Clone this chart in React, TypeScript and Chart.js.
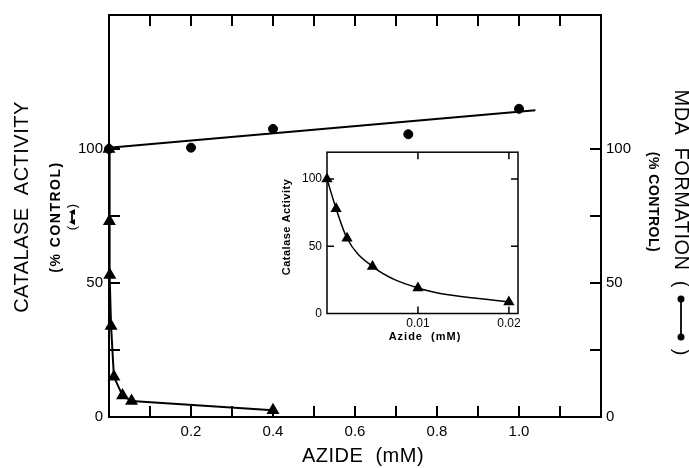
import React, { useEffect, useRef } from 'react';
import { Chart, registerables } from 'chart.js';

Chart.register(...registerables);

// ---- data ----
const MDA_AZIDE = [0, 0.2, 0.4, 0.73, 1.0];
const MDA_FORMATION = [100, 100.5, 107.5, 105.5, 115];
const MDA_FIT_AZIDE = [0, 1.04];
const MDA_FIT_VALUE = [100.5, 114.5];
const CAT_AZIDE = [0, 0.001, 0.002, 0.005, 0.012, 0.033, 0.055, 0.4];
const CAT_ACTIVITY = [100, 73, 53, 34, 15, 8, 6, 2.5];
const INSET_AZIDE = [0, 0.001, 0.0022, 0.005, 0.01, 0.02];
const INSET_ACTIVITY = [100, 78, 56, 35, 19, 8.5];

// ---- tick labels ----
const MAIN_X_LABELS = [0.2, 0.4, 0.6, 0.8, 1.0];
const MAIN_X_MARKS = [0.1, 0.2, 0.3, 0.4, 0.5, 0.6, 0.7, 0.8, 0.9, 1.0, 1.1];
const MAIN_Y_LABELS = [0, 50, 100];
const MAIN_Y_MARKS = [25, 50, 75, 100];
const INSET_X_LABELS = [0.01, 0.02];
const INSET_X_MARKS = [0.01, 0.02];
const INSET_Y_LABELS = [0, 50, 100];
const INSET_Y_MARKS = [50, 100];

const FONT = '"Liberation Sans", Arial, Helvetica, sans-serif';

const pts = (xs: number[], ys: number[]) => xs.map((x, i) => ({ x, y: ys[i] }));

const framePlugin = {
  id: 'frame',
  afterDraw(chart: any, _args: any, opts: any) {
    const { ctx, chartArea: a } = chart;
    const xs = chart.scales.x;
    const ys = chart.scales.y;
    ctx.save();
    ctx.strokeStyle = '#000';
    ctx.lineWidth = opts.lineWidth;
    ctx.strokeRect(a.left, a.top, a.right - a.left, a.bottom - a.top);
    ctx.beginPath();
    for (const v of opts.xMarks) {
      const p = xs.getPixelForValue(v);
      ctx.moveTo(p, a.bottom);
      ctx.lineTo(p, a.bottom - opts.len);
      ctx.moveTo(p, a.top);
      ctx.lineTo(p, a.top + opts.len);
    }
    for (const v of opts.yMarks) {
      const p = ys.getPixelForValue(v);
      ctx.moveTo(a.left, p);
      ctx.lineTo(a.left + opts.len, p);
      ctx.moveTo(a.right, p);
      ctx.lineTo(a.right - opts.len, p);
    }
    ctx.stroke();
    ctx.fillStyle = '#000';
    for (const t of opts.titles || []) {
      ctx.save();
      ctx.translate(t.x, t.y);
      ctx.rotate(t.rot || 0);
      ctx.font = t.font;
      (ctx as any).letterSpacing = t.spacing || '0px';
      ctx.textAlign = 'center';
      ctx.textBaseline = 'middle';
      ctx.fillText(t.text, 0, 0);
      ctx.restore();
    }
    for (const s of opts.symbols || []) {
      ctx.save();
      ctx.translate(s.x, s.y);
      ctx.rotate(s.rot);
      ctx.font = s.font;
      ctx.textAlign = 'center';
      ctx.textBaseline = 'middle';
      ctx.fillText('(', -s.paren, 0);
      ctx.fillText(')', s.paren, 0);
      ctx.lineWidth = 1.8;
      ctx.beginPath();
      ctx.moveTo(-s.half, 0);
      ctx.lineTo(s.half, 0);
      ctx.stroke();
      for (const e of [-s.half, s.half]) {
        ctx.beginPath();
        if (s.marker === 'circle') {
          ctx.arc(e, 0, s.size, 0, Math.PI * 2);
        } else {
          ctx.moveTo(e - s.size, s.size);
          ctx.lineTo(e, -s.size);
          ctx.lineTo(e + s.size, s.size);
          ctx.closePath();
        }
        ctx.fill();
      }
      ctx.restore();
    }
    ctx.restore();
  },
};

export default function App() {
  const mainRef = useRef<HTMLCanvasElement>(null);
  const insetRef = useRef<HTMLCanvasElement>(null);

  useEffect(() => {
    const noGrid = { display: false, drawTicks: false };
    const noBorder = { display: false };

    const main = new Chart(mainRef.current!, {
      type: 'scatter',
      data: {
        datasets: [
          {
            label: 'MDA formation',
            data: pts(MDA_AZIDE, MDA_FORMATION),
            yAxisID: 'y2',
            showLine: false,
            pointStyle: 'circle',
            pointRadius: 4.5,
            backgroundColor: '#000',
            borderColor: '#000',
            clip: false,
          } as any,
          {
            label: 'MDA fit',
            data: pts(MDA_FIT_AZIDE, MDA_FIT_VALUE),
            yAxisID: 'y2',
            showLine: true,
            pointRadius: 0,
            borderColor: '#000',
            borderWidth: 2,
            clip: false,
          } as any,
          {
            label: 'Catalase activity',
            data: pts(CAT_AZIDE, CAT_ACTIVITY),
            yAxisID: 'y',
            showLine: true,
            pointStyle: 'triangle',
            pointRadius: 5.5,
            backgroundColor: '#000',
            borderColor: '#000',
            borderWidth: 2,
            tension: 0,
            clip: false,
          } as any,
        ],
      },
      options: {
        animation: false,
        responsive: false,
        devicePixelRatio: 1,
        layout: { padding: { top: 13, left: 0, right: 0, bottom: 0 } },
        plugins: {
          legend: { display: false },
          tooltip: { enabled: false },
          frame: {
            lineWidth: 2,
            len: 11,
            xMarks: MAIN_X_MARKS,
            yMarks: MAIN_Y_MARKS,
            titles: [
              { text: 'CATALASE  ACTIVITY', x: 22, y: 207, rot: -Math.PI / 2, font: `20px ${FONT}`, spacing: '0.5px' },
              { text: '(% CONTROL)', x: 56, y: 217, rot: -Math.PI / 2, font: `bold 14px ${FONT}`, spacing: '1.5px' },
              { text: 'MDA  FORMATION', x: 681, y: 180, rot: Math.PI / 2, font: `20px ${FONT}`, spacing: '0.5px' },
              { text: '(% CONTROL)', x: 653, y: 202, rot: Math.PI / 2, font: `bold 14px ${FONT}`, spacing: '0.5px' },
              { text: 'AZIDE  (mM)', x: 363, y: 456, rot: 0, font: `20px ${FONT}`, spacing: '0.5px' },
            ],
            symbols: [
              { x: 72, y: 217, rot: -Math.PI / 2, font: `13px ${FONT}`, paren: 11, half: 5, size: 3, marker: 'triangle' },
              { x: 681, y: 318, rot: Math.PI / 2, font: `20px ${FONT}`, paren: 34, half: 19, size: 3.5, marker: 'circle' },
            ],
          },
        } as any,
        scales: {
          x: {
            type: 'linear',
            position: 'bottom',
            min: 0,
            max: 1.2,
            grid: noGrid,
            border: noBorder,
            afterFit: (s: any) => { s.height = 51; },
            afterBuildTicks: (s: any) => { s.ticks = MAIN_X_LABELS.map((v) => ({ value: v })); },
            ticks: {
              autoSkip: false,
              maxRotation: 0,
              padding: 6,
              color: '#000',
              font: { family: FONT, size: 15 },
              callback: (v: any) => Number(v).toFixed(1),
            },
          },
          y: {
            type: 'linear',
            position: 'left',
            min: 0,
            max: 150,
            grid: noGrid,
            border: noBorder,
            afterFit: (s: any) => { s.width = 109; },
            afterBuildTicks: (s: any) => { s.ticks = MAIN_Y_LABELS.map((v) => ({ value: v })); },
            ticks: {
              autoSkip: false,
              padding: 6,
              color: '#000',
              font: { family: FONT, size: 15 },
              callback: (v: any) => String(v),
            },
          },
          y2: {
            type: 'linear',
            position: 'right',
            min: 0,
            max: 150,
            grid: noGrid,
            border: noBorder,
            afterFit: (s: any) => { s.width = 88; },
            afterBuildTicks: (s: any) => { s.ticks = MAIN_Y_LABELS.map((v) => ({ value: v })); },
            ticks: {
              autoSkip: false,
              padding: 5,
              color: '#000',
              font: { family: FONT, size: 15 },
              callback: (v: any) => String(v),
            },
          },
        },
      },
      plugins: [framePlugin],
    });

    const inset = new Chart(insetRef.current!, {
      type: 'scatter',
      data: {
        datasets: [
          {
            label: 'Catalase activity',
            data: pts(INSET_AZIDE, INSET_ACTIVITY),
            showLine: true,
            pointStyle: 'triangle',
            pointRadius: 5,
            backgroundColor: '#000',
            borderColor: '#000',
            borderWidth: 1.5,
            cubicInterpolationMode: 'monotone',
            clip: false,
          } as any,
        ],
      },
      options: {
        animation: false,
        responsive: false,
        devicePixelRatio: 1,
        layout: { padding: { top: 12, right: 12, left: 0, bottom: 0 } },
        plugins: {
          legend: { display: false },
          tooltip: { enabled: false },
          frame: {
            lineWidth: 1.5,
            len: 7,
            xMarks: INSET_X_MARKS,
            yMarks: INSET_Y_MARKS,
            titles: [
              { text: 'Catalase Activity', x: 12, y: 87, rot: -Math.PI / 2, font: `bold 11px ${FONT}`, spacing: '0.5px' },
              { text: 'Azide  (mM)', x: 150, y: 197, rot: 0, font: `bold 11px ${FONT}`, spacing: '1px' },
            ],
          },
        } as any,
        scales: {
          x: {
            type: 'linear',
            position: 'bottom',
            min: 0,
            max: 0.021,
            grid: noGrid,
            border: noBorder,
            afterFit: (s: any) => { s.height = 41.5; },
            afterBuildTicks: (s: any) => { s.ticks = INSET_X_LABELS.map((v) => ({ value: v })); },
            ticks: {
              autoSkip: false,
              maxRotation: 0,
              padding: 3,
              color: '#000',
              font: { family: FONT, size: 12 },
              callback: (v: any) => Number(v).toFixed(2),
            },
          },
          y: {
            type: 'linear',
            position: 'left',
            min: 0,
            max: 120,
            grid: noGrid,
            border: noBorder,
            afterFit: (s: any) => { s.width = 52; },
            afterBuildTicks: (s: any) => { s.ticks = INSET_Y_LABELS.map((v) => ({ value: v })); },
            ticks: {
              autoSkip: false,
              padding: 5,
              color: '#000',
              font: { family: FONT, size: 12 },
              callback: (v: any) => String(v),
            },
          },
        },
      },
      plugins: [framePlugin],
    });

    return () => {
      main.destroy();
      inset.destroy();
    };
  }, []);

  return (
    <div style={{ position: 'fixed', left: 0, top: 0, width: 689, height: 468, background: '#fff' }}>
      <canvas ref={mainRef} width={689} height={468} style={{ position: 'absolute', left: 0, top: 0, width: 689, height: 468 }} />
      <canvas ref={insetRef} width={255} height={215} style={{ position: 'absolute', left: 275, top: 140, width: 255, height: 215 }} />
    </div>
  );
}
